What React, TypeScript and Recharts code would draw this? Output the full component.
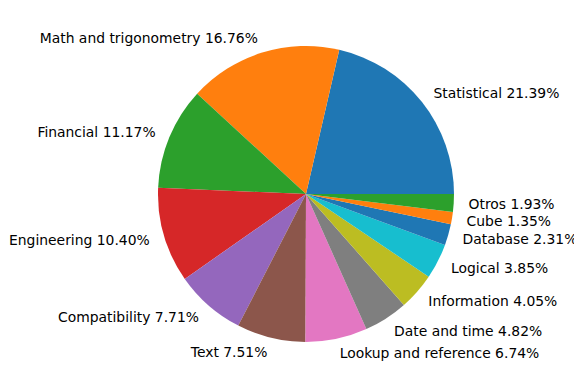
import { PieChart, Pie, Cell } from "recharts";

const categories = [
  "Statistical",
  "Math and trigonometry",
  "Financial",
  "Engineering",
  "Compatibility",
  "Text",
  "Lookup and reference",
  "Date and time",
  "Information",
  "Logical",
  "Database",
  "Cube",
  "Otros",
];

const shares = [21.39, 16.76, 11.17, 10.4, 7.71, 7.51, 6.74, 4.82, 4.05, 3.85, 2.31, 1.35, 1.93];

const COLORS = [
  "#1f77b4",
  "#ff7f0e",
  "#2ca02c",
  "#d62728",
  "#9467bd",
  "#8c564b",
  "#e377c2",
  "#7f7f7f",
  "#bcbd22",
  "#17becf",
];

const data = categories.map((name, i) => ({ name, value: shares[i] }));

const RAD = Math.PI / 180;

// matplotlib-style label: 1.1 * radius, left/right aligned by side
function renderLabel(props: {
  cx: number;
  cy: number;
  midAngle: number;
  outerRadius: number;
  name: string;
  value: number;
}) {
  const { cx, cy, midAngle, outerRadius, name, value } = props;
  const r = outerRadius * 1.1;
  const x = cx + r * Math.cos(-midAngle * RAD);
  const y = cy + r * Math.sin(-midAngle * RAD);
  return (
    <text
      x={x}
      y={y}
      fill="#000"
      fontSize={13.9}
      fontFamily="DejaVu Sans"
      textAnchor={x > cx ? "start" : "end"}
      dominantBaseline="central"
    >
      {`${name} ${value.toFixed(2)}%`}
    </text>
  );
}

export default function App() {
  return (
    <div
      style={{
        position: "absolute",
        left: 0,
        top: 0,
        width: 574,
        height: 389,
        overflow: "hidden",
        background: "#fff",
      }}
    >
      <PieChart width={574} height={389} margin={{ top: 0, right: 0, bottom: 0, left: 0 }}>
        <Pie
          data={data}
          dataKey="value"
          nameKey="name"
          cx={306}
          cy={194}
          outerRadius={148}
          startAngle={0}
          endAngle={360}
          stroke="none"
          labelLine={false}
          label={renderLabel}
          isAnimationActive={false}
        >
          {data.map((d, i) => (
            <Cell key={d.name} fill={COLORS[i % COLORS.length]} />
          ))}
        </Pie>
      </PieChart>
    </div>
  );
}
